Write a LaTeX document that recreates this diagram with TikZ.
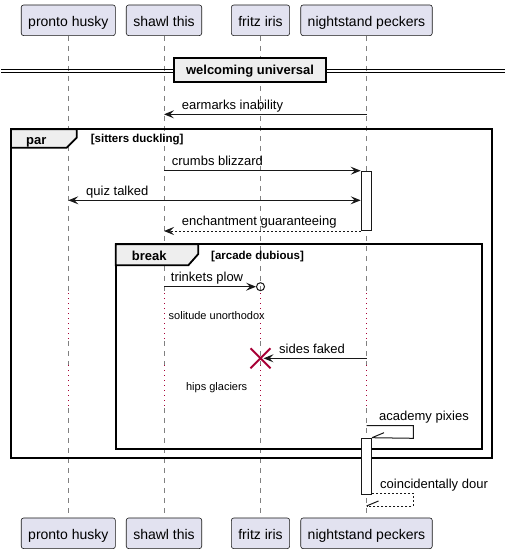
\documentclass[tikz,border=0pt]{standalone}
\usepackage{fontspec}
\setmainfont{Liberation Sans}
\usetikzlibrary{arrows.meta, positioning, shapes.misc}
\definecolor{partfill}{HTML}{E2E2F0}
\definecolor{partline}{HTML}{181818}
\definecolor{tabfill}{HTML}{EEEEEE}
\definecolor{delayred}{HTML}{A80036}

\begin{document}
\begin{tikzpicture}[x=1pt, y=-1pt,
    participant/.style={draw=partline, fill=partfill, rounded corners=2.5pt, line width=0.6pt, minimum height=30.7pt, inner xsep=7pt, text height=12pt, text depth=0pt, font=\fontsize{14}{16}\selectfont},
    lifeline/.style={draw=gray, line width=0.6pt, dash pattern=on 5pt off 5pt},
    delayline/.style={draw=delayred, line width=1pt, dash pattern=on 1pt off 4pt},
    msg/.style={draw=partline, line width=1pt, -{Stealth[length=10pt, width=8pt, inset=4pt]}},
    bimsg/.style={msg, {Stealth[length=10pt, width=8pt, inset=4pt]}-{Stealth[length=10pt, width=8pt, inset=4pt]}},
    reply/.style={msg, dash pattern=on 2pt off 2pt},
    selfline/.style={draw=partline, line width=1pt},
    msglbl/.style={font=\fontsize{13}{15}\selectfont, inner sep=0pt, anchor=base west},
    activ/.style={draw=partline, fill=white, line width=1pt, inner sep=0pt, anchor=north},
    fragment/.style={draw=black, line width=1.8pt},
    fragtab/.style={draw=black, fill=tabfill, line width=1.8pt},
    taglbl/.style={font=\bfseries\fontsize{13}{15}\selectfont, inner sep=0pt, anchor=base west},
    condlbl/.style={font=\bfseries\fontsize{11.5}{13}\selectfont, inner sep=0pt, anchor=base west},
    delaylbl/.style={font=\fontsize{11}{13}\selectfont, inner sep=0pt},
]
    \useasboundingbox (0,0) rectangle (507,554);

    % participants
    \node[participant] (ph) at (68.3,20.3) {pronto husky};
    \node[participant] (st) at (164,20.3) {shawl this};
    \node[participant] (fi) at (260.5,20.3) {fritz iris};
    \node[participant] (np) at (366.5,20.3) {nightstand peckers};
    \node[participant] (phb) at (68.3,533.3) {pronto husky};
    \node[participant] (stb) at (164,533.3) {shawl this};
    \node[participant] (fib) at (260.5,533.3) {fritz iris};
    \node[participant] (npb) at (366.5,533.3) {nightstand peckers};

    % lifelines, dotted where the delays are
    \foreach \p in {ph,st,fi,np}{
        \draw[lifeline] (\p.south) -- (\p |- 0,293);
        \draw[delayline] (\p |- 0,293) -- (\p |- 0,341);
        \draw[lifeline] (\p |- 0,341) -- (\p |- 0,365);
        \draw[delayline] (\p |- 0,365) -- (\p |- 0,408);
        \draw[lifeline] (\p |- 0,408) -- (\p b.north);
    }

    % divider
    \draw[line width=1pt] (1,69) -- (505,69);
    \draw[line width=1pt] (1,72) -- (505,72);
    \node[draw=black, fill=tabfill, line width=1.8pt, minimum width=151.7pt, minimum height=24pt, text height=10pt, text depth=0pt, font=\bfseries\fontsize{13}{15}\selectfont] (div) at (250,69.7) {welcoming universal};

    \draw[msg] (np |- 0,114.3) -- (st |- 0,114.3);
    \node[msglbl] (m1) at (181.7,109.3) {earmarks inability};

    % par frame
    \draw[fragment] (11,129.3) rectangle (491.7,458.3);
    \draw[fragtab] (11,129.3) -- (76.7,129.3) -- (76.7,137.7) -- (66.7,147.7) -- (11,147.7) -- cycle;
    \node[taglbl] (partag) at (26,144.3) {par};
    \node[condlbl] (parcond) at (90.7,142.7) {[sitters duckling]};

    % break frame
    \draw[fragment] (115.7,244.3) rectangle (481.7,449.3);
    \draw[fragtab] (115.7,244.3) -- (198.3,244.3) -- (198.3,254) -- (188.3,265.3) -- (115.7,265.3) -- cycle;
    \node[taglbl] (brktag) at (131.7,260) {break};
    \node[condlbl] (brkcond) at (211,259.3) {[arcade dubious]};

    % activations
    \node[activ, minimum width=10.7pt, minimum height=59.3pt] (act1) at (np |- 0,170.7) {};
    \node[activ, minimum width=10pt, minimum height=56.6pt] (act2) at (np |- 0,437.7) {};

    % messages
    \draw[msg] (st |- act1.north west) -- (act1.north west);
    \node[msglbl] (m2) at (171.7,165.7) {crumbs blizzard};
    \draw[bimsg] (ph |- 0,200.3) -- (act1.west |- 0,200.3);
    \node[msglbl] (m3) at (86,195.3) {quiz talked};
    \draw[reply] (act1.south west) -- (st |- act1.south west);
    \node[msglbl] (m4) at (181.7,225) {enchantment guaranteeing};

    \node[draw=partline, line width=1pt, circle, minimum size=8pt, inner sep=0pt] (lost) at (fi |- 0,286.7) {};
    \draw[msg] (st |- lost) -- (lost.west);
    \node[msglbl] (m5) at (170.7,281.7) {trinkets plow};

    \node[delaylbl] (d1) at (216.7,316) {solitude unorthodox};

    \node[cross out, draw=delayred, line width=2pt, minimum size=18pt, inner sep=0pt] (kill) at (fi |- 0,358.3) {};
    \draw[msg] (np |- kill) -- ([xshift=3pt]kill.center);
    \node[msglbl] (m6) at (279,353.3) {sides faked};

    \node[delaylbl] (d2) at (216.7,388) {hips glaciers};

    \draw[selfline] (np |- 0,425.7) -- (413.3,425.7) -- (413.3,438.3) -- (act2.north east);
    \draw[selfline] (act2.north east) -- ++(12,-5);
    \node[msglbl] (m7) at (379,420.7) {academy pixies};

    \draw[selfline, dash pattern=on 2pt off 2pt] (act2.east |- 0,493.3) -- (413.3,493.3) -- (413.3,506) -- (np |- 0,506);
    \draw[selfline] (np |- 0,506) -- ++(12,-5);
    \node[msglbl] (m8) at (380,488.3) {coincidentally dour};
\end{tikzpicture}
\end{document}
